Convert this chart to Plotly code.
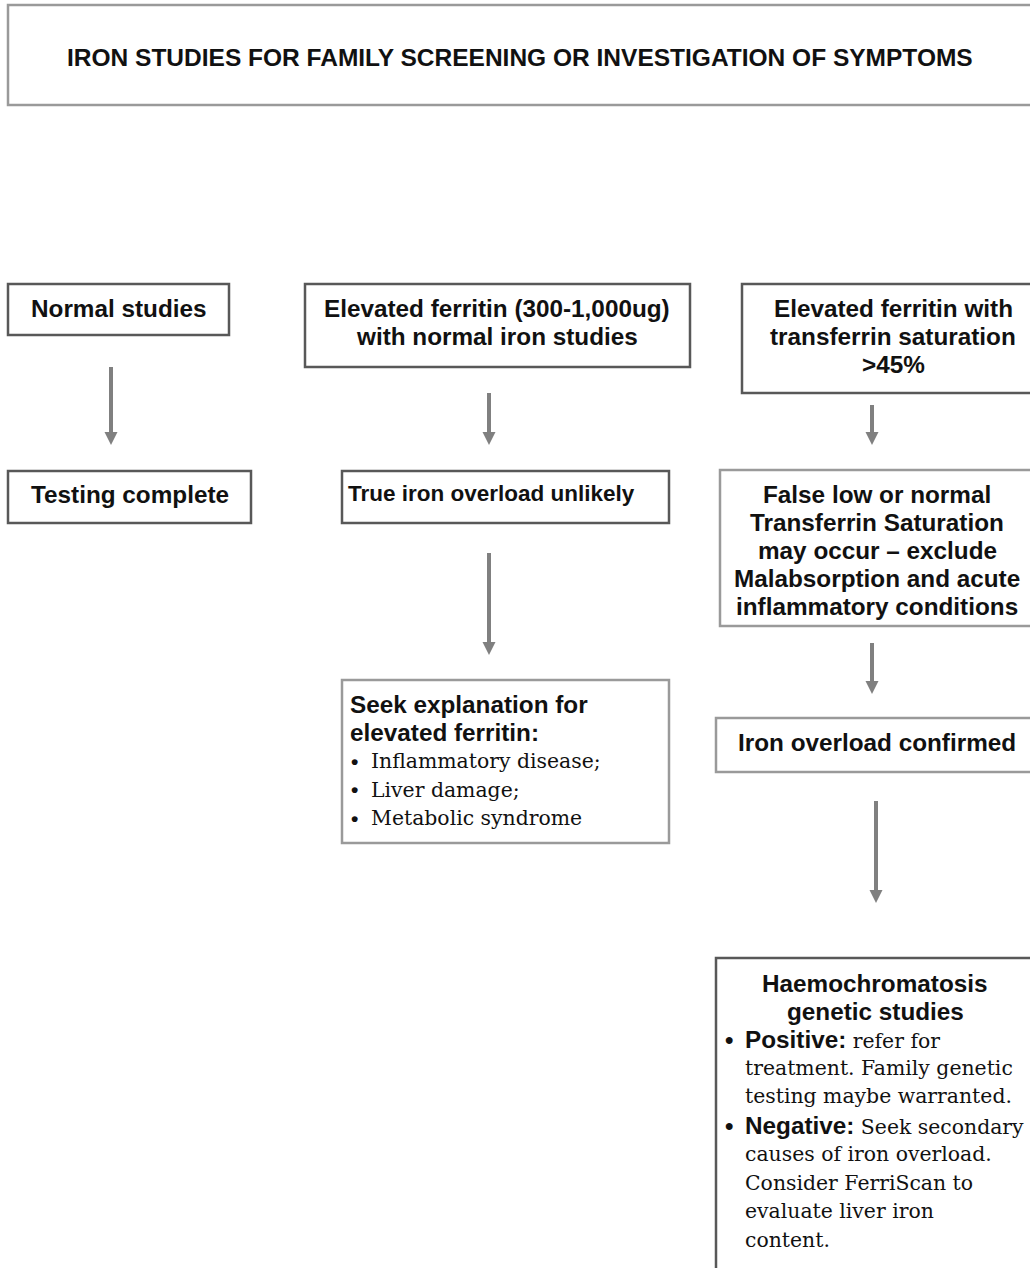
import plotly.graph_objects as go

W, H = 1030, 1268

SANS = "Liberation Sans, Arial, sans-serif"
SERIF = "DejaVu Serif, serif"

# ---------------- content ----------------
title_text = "IRON STUDIES FOR FAMILY SCREENING OR INVESTIGATION OF SYMPTOMS"

normal_lines = ["Normal studies"]
testing_lines = ["Testing complete"]
elev_norm_lines = ["Elevated ferritin (300-1,000ug)", "with normal iron studies"]
unlikely_lines = ["True iron overload unlikely"]
seek_head_lines = ["Seek explanation for", "elevated ferritin:"]
seek_bullets = ["Inflammatory disease;", "Liver damage;", "Metabolic syndrome"]
elev_sat_lines = ["Elevated ferritin with", "transferrin saturation", ">45%"]
falselow_lines = ["False low or normal", "Transferrin Saturation", "may occur \u2013 exclude",
                  "Malabsorption and acute", "inflammatory conditions"]
confirmed_lines = ["Iron overload confirmed"]
genetic_head_lines = ["Haemochromatosis", "genetic studies"]
genetic_items = [
    ("Positive:", ["refer for", "treatment. Family genetic", "testing maybe warranted."]),
    ("Negative:", ["Seek secondary", "causes of iron overload.", "Consider FerriScan to",
                   "evaluate liver iron", "content."]),
]

# ---------------- layout geometry ----------------
DARK = "#585858"
LIGHT = "#9a9a9a"
boxes = {
    "title":     (8, 5, 1034, 105, LIGHT),
    "normal":    (8, 284, 229, 335, DARK),
    "testing":   (8, 471, 251, 523, DARK),
    "elev_norm": (305, 284, 690, 367, DARK),
    "unlikely":  (342, 471, 669, 523, DARK),
    "seek":      (342, 680, 669, 843, LIGHT),
    "elev_sat":  (742, 284, 1034, 393, DARK),
    "falselow":  (720, 470, 1034, 626, LIGHT),
    "confirmed": (716, 718, 1034, 772, LIGHT),
    "genetic":   (716, 958, 1034, 1275, DARK),
}
arrows = [(111, 367, 445), (489, 393, 445), (489, 553, 655),
          (872, 405, 445), (872, 643, 694), (876, 801, 903)]

shapes = []
for key, (x0, y0, x1, y1, col) in boxes.items():
    shapes.append(dict(type="rect", xref="x", yref="y", x0=x0, y0=y0, x1=x1, y1=y1,
                       line=dict(color=col, width=2.5), fillcolor="rgba(0,0,0,0)", layer="above"))

AC = "#808080"
HEAD_L, HEAD_W = 13, 13
for (x, ys, yt) in arrows:
    shapes.append(dict(type="line", xref="x", yref="y", x0=x, x1=x, y0=ys, y1=yt - HEAD_L + 1,
                       line=dict(color=AC, width=4)))
    shapes.append(dict(type="path", xref="x", yref="y",
                       path=f"M {x - HEAD_W/2},{yt - HEAD_L} L {x + HEAD_W/2},{yt - HEAD_L} L {x},{yt} Z",
                       fillcolor=AC, line=dict(color=AC, width=0)))

annotations = []
BOLD_SIZE = 24.3
SERIF_SIZE = 20.4


def add_text(text, x, y, anchor="center", family=SANS, size=BOLD_SIZE, bold=True):
    t = f"<b>{text}</b>" if bold else text
    annotations.append(dict(text=t, x=x, y=y, xref="x", yref="y", xanchor=anchor, yanchor="middle",
                            showarrow=False, font=dict(family=family, size=size, color="#111111"),
                            align=anchor if anchor != "center" else "center"))


def add_block(lines, x, y_first, step, **kw):
    for i, ln in enumerate(lines):
        add_text(ln, x, y_first + i * step, **kw)


add_text(title_text, 520, 57, size=24.5)
add_block(normal_lines, 118.5, 308, 28)
add_block(testing_lines, 130, 494, 28)
add_block(elev_norm_lines, 497, 308, 28)
add_block(unlikely_lines, 346, 493, 28, anchor="left", size=22.5)
add_block(elev_sat_lines, 893, 308, 28)
add_block(falselow_lines, 877, 494, 28)
add_block(confirmed_lines, 877, 742, 28)

# seek explanation box
add_block(seek_head_lines, 348, 704, 28.3, anchor="left")
for i, b in enumerate(seek_bullets):
    y = 761 + i * 28.5
    add_text("\u2022", 349, y, anchor="left", family=SANS, size=21, bold=True)
    add_text(b, 369, y, anchor="left", family=SERIF, size=SERIF_SIZE, bold=False)

# haemochromatosis box
add_block(genetic_head_lines, 875, 983, 28.3)
y = 1039
for head, rest in genetic_items:
    add_text("\u2022", 723, y, anchor="left", family=SANS, size=24, bold=True)
    first = (f'<span style="font-family:Liberation Sans;font-weight:bold;font-size:{BOLD_SIZE}px">{head}</span>'
             f' {rest[0]}')
    annotations.append(dict(text=first, x=743, y=y, xref="x", yref="y", xanchor="left",
                            yanchor="middle", showarrow=False,
                            font=dict(family=SERIF, size=SERIF_SIZE, color="#111111")))
    y += 28.7
    for ln in rest[1:]:
        add_text(ln, 743, y, anchor="left", family=SERIF, size=SERIF_SIZE, bold=False)
        y += 28.7

fig = go.Figure()
fig.add_trace(go.Scatter(x=[0], y=[0], mode="markers", marker=dict(opacity=0),
                         hoverinfo="skip", showlegend=False))
fig.update_layout(
    width=W, height=H, margin=dict(l=0, r=0, t=0, b=0),
    paper_bgcolor="white", plot_bgcolor="white",
    xaxis=dict(range=[0, W], visible=False, fixedrange=True),
    yaxis=dict(range=[H, 0], visible=False, fixedrange=True),
    shapes=shapes, annotations=annotations, showlegend=False,
)
fig.write_html("out.html", config={"displayModeBar": False},
               post_script="document.body.style.margin='0';document.body.style.padding='0';"
                           "document.body.style.overflow='hidden';")
